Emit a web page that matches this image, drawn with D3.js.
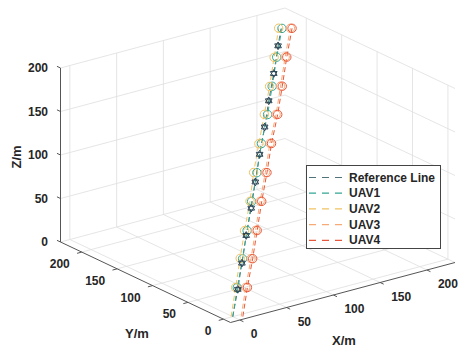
<!DOCTYPE html>
<html>
<head>
<meta charset="utf-8">
<script src="https://cdn.jsdelivr.net/npm/d3@7"></script>
<style>
  body { margin: 0; background: #fff; }
  text { font-family: "Liberation Sans", Arial, sans-serif; font-weight: bold; fill: #262626; }
</style>
</head>
<body>
<div id="chart"></div>
<script>
// ticks
const xTicks = [0, 50, 100, 150, 200];
const yTicks = [0, 50, 100, 150, 200];
const zTicks = [0, 50, 100, 150, 200];

// reference trajectory (star markers on points 1..10)
const refX = [0, 19, 37, 56, 75, 93, 112, 131, 149, 168, 187, 200];
const refY = [0, 18, 36, 55, 73, 91, 110, 128, 146, 164, 183, 196];
const refZ = [0, 19, 37, 56, 75, 93, 112, 131, 149, 168, 187, 198];

// UAV trajectories
const uavZ  = [0, 20, 40, 59, 79, 99, 119, 139, 158, 178, 198];
const uav1X = [0, 20, 40, 60, 80, 100, 120, 141, 161, 181, 201];
const uav1Y = [0, 20, 39, 59, 79, 98, 118, 137, 157, 177, 196];
const uav2X = [-1, 19, 39, 58, 79, 98, 118, 139, 159, 179, 199];
const uav2Y = [1, 21, 41, 60, 80, 100, 119, 139, 158, 178, 198];
const uav3X = [6, 26, 46, 66, 86, 106, 126, 147, 167, 187, 207];
const uav3Y = [-4, 16, 35, 55, 75, 94, 114, 133, 153, 173, 192];
const uav4X = [7, 27, 47, 67, 87, 107, 127, 148, 168, 188, 208];
const uav4Y = [-5, 15, 34, 54, 74, 93, 113, 132, 152, 172, 191];

const seriesNames = ["Reference Line", "UAV1", "UAV2", "UAV3", "UAV4"];
const seriesColors = ["#50737a", "#33a694", "#f1c262", "#f6ab76", "#e8573b"];

const W = 459, H = 348;

// projection of the 3D box onto the page
const O  = [230.5, 322.5];    // corner x=min, y=min, z=0
const XV = [224.5, -60];      // full x range
const YV = [-170, -80.5];     // full y range
const ZV = [0, -174];         // full z range

const sx = d3.scaleLinear().domain([-10, 230]).range([0, 1]);
const sy = d3.scaleLinear().domain([-10, 230]).range([0, 1]);
const sz = d3.scaleLinear().domain([0, 200]).range([0, 1]);
const xMin = -10, xMax = 230, yMin = -10, yMax = 230, zMin = 0, zMax = 200;

function proj(x, y, z) {
    const a = sx(x), b = sy(y), c = sz(z);
    return [O[0] + a * XV[0] + b * YV[0] + c * ZV[0],
            O[1] + a * XV[1] + b * YV[1] + c * ZV[1]];
}

const svg = d3.select("#chart").append("svg")
    .attr("width", W).attr("height", H);

svg.append("rect").attr("width", W).attr("height", H).attr("fill", "#fff");

// grid
const gridSegs = [];
xTicks.forEach(x => {
    gridSegs.push([[x, yMin, zMin], [x, yMax, zMin]]);
    gridSegs.push([[x, yMax, zMin], [x, yMax, zMax]]);
});
yTicks.forEach(y => {
    gridSegs.push([[xMin, y, zMin], [xMax, y, zMin]]);
    gridSegs.push([[xMax, y, zMin], [xMax, y, zMax]]);
});
zTicks.forEach(z => {
    gridSegs.push([[xMin, yMax, z], [xMax, yMax, z]]);
    gridSegs.push([[xMax, yMin, z], [xMax, yMax, z]]);
});

const seg = d3.line();
svg.append("g").selectAll("path").data(gridSegs).join("path")
    .attr("d", d => seg(d.map(p => proj(...p))))
    .attr("fill", "none")
    .attr("stroke", "#dedede")
    .attr("stroke-width", 0.8);

// axis lines
const axisG = svg.append("g").attr("stroke", "#555").attr("stroke-width", 1).attr("fill", "none");
axisG.append("path").attr("d", seg([proj(xMin, yMin, 0), proj(xMax, yMin, 0)]));
axisG.append("path").attr("d", seg([proj(xMin, yMin, 0), proj(xMin, yMax, 0)]));
axisG.append("path").attr("d", seg([proj(xMin, yMax, zMin), proj(xMin, yMax, zMax)]));

// ticks
xTicks.forEach(x => axisG.append("path").attr("d", seg([proj(x, yMin, 0), proj(x, yMin - 5, 0)])));
yTicks.forEach(y => axisG.append("path").attr("d", seg([proj(xMin, y, 0), proj(xMin - 5, y, 0)])));
zTicks.forEach(z => axisG.append("path").attr("d", seg([proj(xMin, yMax, z), proj(xMin, yMax + 5, z)])));

// tick labels
svg.append("g").selectAll("text").data(zTicks).join("text")
    .attr("x", 48).attr("y", d => proj(xMin, yMax, d)[1])
    .attr("text-anchor", "end").attr("dominant-baseline", "central")
    .attr("font-size", 12).text(d => d);

svg.append("g").selectAll("text").data(yTicks).join("text")
    .attr("x", d => proj(xMin, d, 0)[0] - 12)
    .attr("y", d => proj(xMin, d, 0)[1] + 12)
    .attr("text-anchor", "end").attr("dominant-baseline", "central")
    .attr("font-size", 12).text(d => d);

svg.append("g").selectAll("text").data(xTicks).join("text")
    .attr("x", d => proj(d, yMin, 0)[0] + 11)
    .attr("y", d => proj(d, yMin, 0)[1] + 14)
    .attr("text-anchor", "start").attr("dominant-baseline", "central")
    .attr("font-size", 12).text(d => d);

// axis titles
svg.append("text").attr("x", 344).attr("y", 340)
    .attr("text-anchor", "middle").attr("dominant-baseline", "central")
    .attr("font-size", 13).text("X/m");
svg.append("text").attr("x", 137).attr("y", 333)
    .attr("text-anchor", "middle").attr("dominant-baseline", "central")
    .attr("font-size", 13).text("Y/m");
svg.append("text").attr("transform", "translate(16,157) rotate(-90)")
    .attr("text-anchor", "middle").attr("dominant-baseline", "central")
    .attr("font-size", 13).text("Z/m");

// trajectories
const traj = [
    refX.map((x, i) => [x, refY[i], refZ[i]]),
    uav1X.map((x, i) => [x, uav1Y[i], uavZ[i]]),
    uav2X.map((x, i) => [x, uav2Y[i], uavZ[i]]),
    uav3X.map((x, i) => [x, uav3Y[i], uavZ[i]]),
    uav4X.map((x, i) => [x, uav4Y[i], uavZ[i]])
];

const lineG = svg.append("g");
traj.forEach((pts, k) => {
    lineG.append("path")
        .attr("d", seg(pts.map(p => proj(...p))))
        .attr("fill", "none")
        .attr("stroke", seriesColors[k])
        .attr("stroke-width", 1)
        .attr("stroke-dasharray", "5,3");
});

// circle markers for the UAVs
traj.slice(1).forEach((pts, k) => {
    lineG.append("g").selectAll("circle").data(pts.slice(1)).join("circle")
        .attr("cx", d => proj(...d)[0])
        .attr("cy", d => proj(...d)[1])
        .attr("r", 4.2)
        .attr("fill", "none")
        .attr("stroke", seriesColors[k + 1])
        .attr("stroke-width", 1);
});

// hexagram markers for the reference line
const hexagram = {
    draw(ctx, size) {
        const r = Math.sqrt(size) / 2;
        for (let t = 0; t < 2; t++) {
            for (let j = 0; j < 3; j++) {
                const a = (t * 60 + j * 120 - 90) * Math.PI / 180;
                const px = r * Math.cos(a), py = r * Math.sin(a);
                if (j === 0) ctx.moveTo(px, py); else ctx.lineTo(px, py);
            }
            ctx.closePath();
        }
    }
};
lineG.append("g").selectAll("path").data(traj[0].slice(1, 11)).join("path")
    .attr("transform", d => `translate(${proj(...d)[0]},${proj(...d)[1]})`)
    .attr("d", d3.symbol(hexagram, 60)())
    .attr("fill", "none")
    .attr("stroke", "#2c4656")
    .attr("stroke-width", 1);

// legend
const leg = svg.append("g");
leg.append("rect").attr("x", 306.5).attr("y", 165.5).attr("width", 134).attr("height", 83)
    .attr("fill", "#fff").attr("stroke", "#444").attr("stroke-width", 1);
seriesNames.forEach((name, i) => {
    const y = 177.5 + i * 15.7;
    leg.append("line").attr("x1", 309).attr("x2", 345).attr("y1", y).attr("y2", y)
        .attr("stroke", seriesColors[i]).attr("stroke-width", 1.2)
        .attr("stroke-dasharray", "7,6");
    leg.append("text").attr("x", 349).attr("y", y)
        .attr("dominant-baseline", "central").attr("font-size", 12).text(name);
});
</script>
</body>
</html>
